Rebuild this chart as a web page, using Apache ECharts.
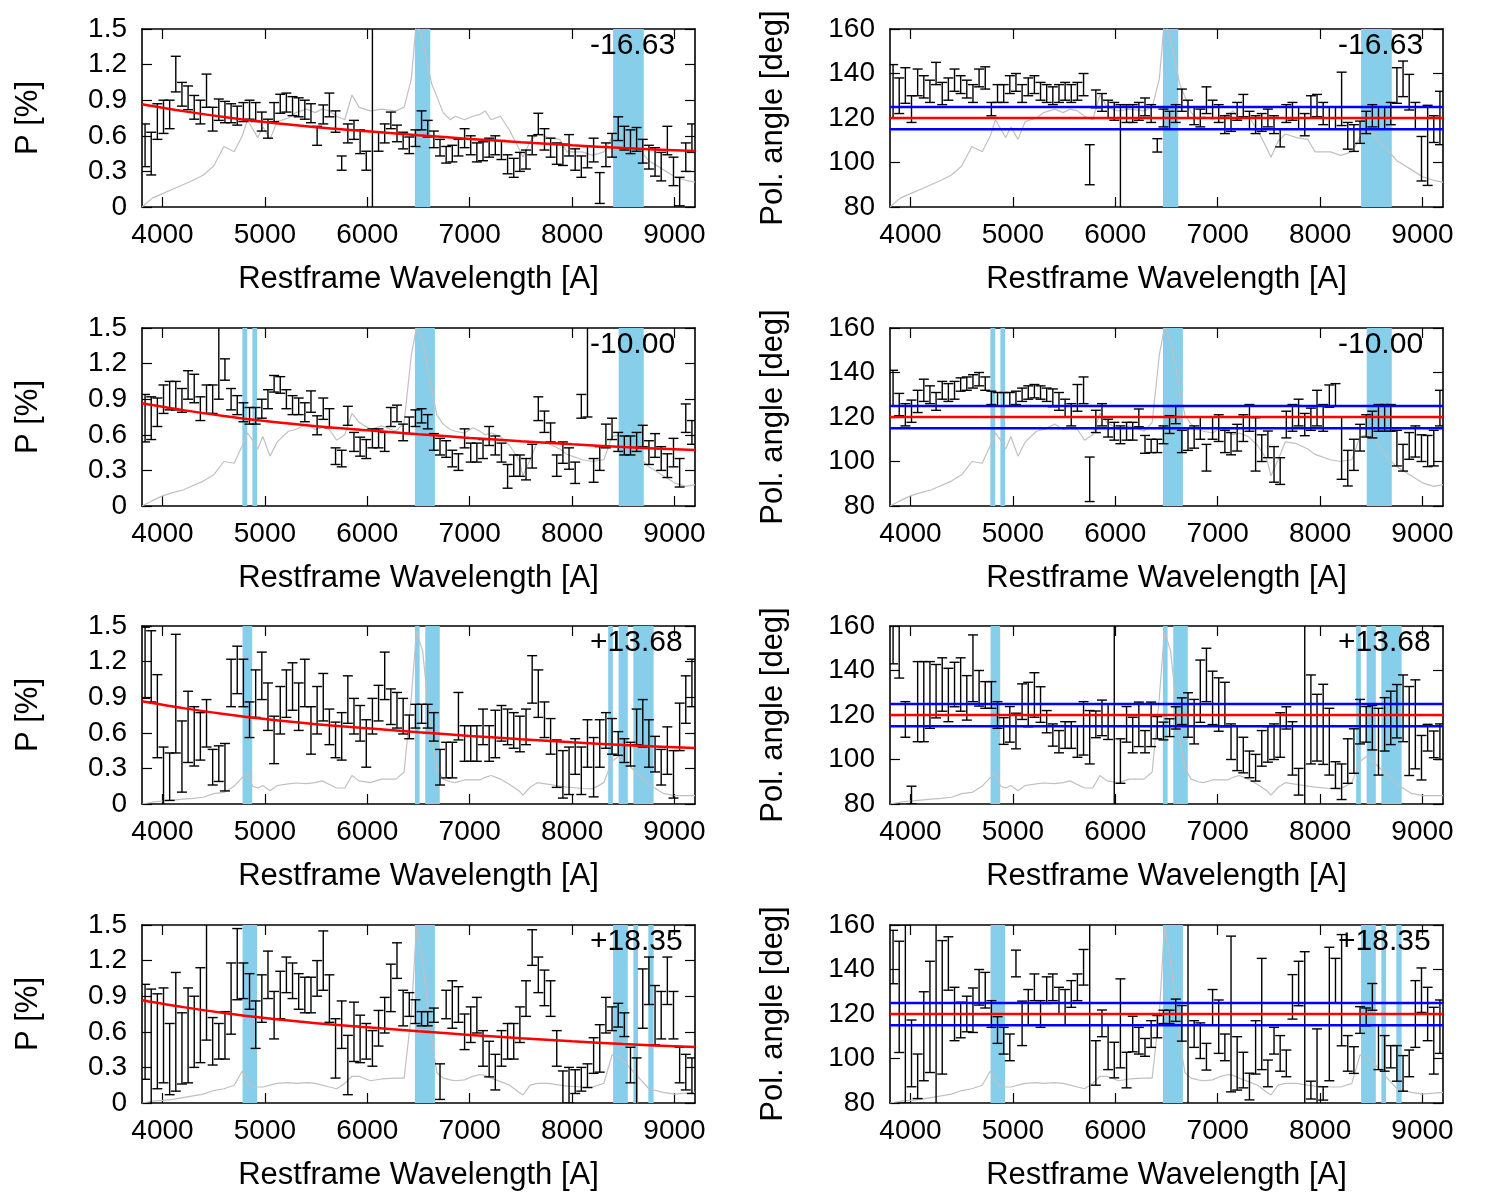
<!DOCTYPE html>
<html>
<head>
<meta charset="utf-8">
<title>Polarization spectra</title>
<script src="https://cdn.jsdelivr.net/npm/echarts@6.0.0/dist/echarts.min.js"></script>
<style>
  html, body { margin: 0; padding: 0; background: #fff; }
  #chart { width: 1495px; height: 1196px; }
</style>
</head>
<body>
<div id="chart"></div>
<script>
// wavelength bins of the polarimetry points
var waves = [3830,3890,3950,4010,4070,4130,4190,4250,4310,4370,
  4430,4490,4550,4610,4670,4730,4790,4850,4910,4970,
  5030,5090,5150,5210,5270,5330,5390,5450,5510,5570,
  5630,5690,5750,5810,5870,5930,5990,6050,6110,6170,
  6230,6290,6350,6410,6470,6530,6590,6650,6710,6770,
  6830,6890,6950,7010,7070,7130,7190,7250,7310,7370,
  7430,7490,7550,7610,7670,7730,7790,7850,7910,7970,
  8030,8090,8150,8210,8270,8330,8390,8450,8510,8570,
  8630,8690,8750,8810,8870,8930,8990,9050,9110,9170];

var xTicks = [4000, 5000, 6000, 7000, 8000, 9000];

// P [%] and errors, one pair per epoch
var pRow1 = [0.52,0.45,0.72,0.76,0.78,1.12,0.95,0.92,0.84,0.8,
  0.98,0.74,0.82,0.8,0.79,0.77,0.8,0.82,0.8,0.72,
  0.66,0.8,0.87,0.88,0.85,0.84,0.82,0.79,0.6,0.78,
  0.86,0.72,0.37,0.62,0.65,0.55,0.39,0.75,0.55,0.62,
  0.73,0.62,0.56,0.52,0.58,0.73,0.66,0.57,0.5,0.44,
  0.45,0.5,0.58,0.52,0.46,0.47,0.5,0.52,0.48,0.36,
  0.33,0.38,0.4,0.52,0.7,0.57,0.5,0.45,0.44,0.52,
  0.4,0.34,0.42,0.48,0.16,0.44,0.52,0.66,0.58,0.55,
  0.57,0.47,0.42,0.38,0.34,0.56,0.3,0.13,0.42,0.58];
var pErrRow1 = [0.18,0.18,0.15,0.14,0.12,0.15,0.1,0.1,0.1,0.1,
  0.14,0.1,0.09,0.09,0.08,0.08,0.08,0.08,0.08,0.08,
  0.08,0.08,0.08,0.08,0.08,0.08,0.08,0.08,0.08,0.08,
  0.1,0.09,0.06,0.08,0.08,0.1,0.08,1.5,0.08,0.08,
  0.07,0.07,0.07,0.07,0.07,0.08,0.07,0.07,0.07,0.07,
  0.07,0.07,0.08,0.08,0.08,0.08,0.08,0.08,0.08,0.08,
  0.08,0.08,0.08,0.08,0.09,0.09,0.08,0.09,0.09,0.09,
  0.09,0.09,0.09,0.1,0.13,0.1,0.1,0.1,0.1,0.1,
  0.1,0.1,0.1,0.12,0.12,0.12,0.12,0.12,0.12,0.12];

var pRow2 = [0.74,0.74,0.79,0.9,0.93,0.93,0.89,1.02,0.99,0.82,
  0.9,0.9,1.3,1.15,0.9,0.85,0.79,0.76,0.76,0.82,
  0.9,1.03,1.02,0.9,0.85,0.84,0.79,0.88,0.68,0.82,
  0.74,0.42,0.4,0.76,0.54,0.5,0.48,0.57,0.57,0.54,
  0.75,0.78,0.62,0.68,0.74,0.76,0.71,0.54,0.5,0.48,
  0.4,0.37,0.57,0.45,0.45,0.48,0.59,0.51,0.45,0.25,
  0.34,0.34,0.31,0.42,0.82,0.71,0.62,0.34,0.45,0.4,
  0.28,0.84,1.2,0.3,0.4,0.59,0.65,0.54,0.51,0.51,
  0.54,0.59,0.45,0.51,0.4,0.34,0.45,0.28,0.74,0.62];
var pErrRow2 = [0.2,0.18,0.12,0.12,0.12,0.12,0.1,0.12,0.12,0.1,
  0.12,0.12,0.4,0.09,0.09,0.08,0.08,0.07,0.07,0.08,
  0.08,0.07,0.07,0.08,0.08,0.07,0.08,0.09,0.08,0.09,
  0.08,0.07,0.07,0.08,0.08,0.08,0.08,0.08,0.08,0.08,
  0.08,0.07,0.07,0.07,0.07,0.06,0.06,0.07,0.07,0.07,
  0.07,0.07,0.08,0.08,0.08,0.08,0.08,0.08,0.08,0.1,
  0.09,0.09,0.09,0.1,0.1,0.09,0.08,0.09,0.09,0.09,
  0.09,0.1,0.45,0.1,0.1,0.1,0.09,0.08,0.08,0.08,
  0.08,0.09,0.1,0.1,0.1,0.1,0.12,0.12,0.12,0.1];

var pRow3 = [1.19,1.16,0.74,0.23,0.23,0.93,0.4,0.65,0.57,0.57,
  0.68,0.31,0.34,0.31,1.02,1.13,1.02,0.71,0.93,1.08,
  0.82,0.54,0.79,0.93,0.99,0.82,1.02,0.62,0.79,0.9,
  0.65,0.54,0.57,0.88,0.74,0.68,0.51,0.74,0.85,1.08,
  0.82,0.79,0.74,0.65,0.74,0.76,0.74,0.65,0.31,0.37,
  0.37,0.74,0.51,0.51,0.51,0.65,0.51,0.59,0.68,0.65,
  0.62,0.59,0.65,1.05,0.93,0.71,0.57,0.34,0.25,0.28,
  0.4,0.28,0.51,0.31,0.51,0.62,0.57,0.51,0.45,0.42,
  0.65,0.68,0.51,0.42,0.31,0.45,0.25,0.65,0.88,1.02];
var pErrRow3 = [0.3,0.3,0.35,0.25,0.2,0.5,0.3,0.3,0.25,0.2,
  0.2,0.15,0.15,0.2,0.2,0.2,0.2,0.15,0.2,0.2,
  0.2,0.2,0.2,0.2,0.2,0.2,0.2,0.2,0.2,0.2,
  0.15,0.15,0.2,0.2,0.15,0.15,0.2,0.15,0.15,0.2,
  0.15,0.15,0.15,0.1,0.1,0.08,0.1,0.12,0.15,0.15,
  0.15,0.2,0.15,0.15,0.15,0.15,0.15,0.2,0.15,0.15,
  0.15,0.15,0.15,0.2,0.2,0.15,0.15,0.2,0.2,0.2,
  0.15,0.2,0.2,0.25,0.2,0.15,0.15,0.1,0.1,0.1,
  0.15,0.2,0.2,0.15,0.15,0.2,0.2,0.2,0.2,0.2];

var pRow4 = [0.6,0.46,0.52,0.57,0.37,0.6,0.46,0.57,0.6,0.74,
  1.03,0.52,0.52,0.57,0.88,1.17,1.03,0.94,0.66,0.88,
  1.08,0.74,0.91,1.08,1.03,0.94,0.91,0.91,1.05,1.2,
  0.88,0.46,0.66,0.32,0.6,0.54,0.52,0.46,0.63,0.74,
  0.97,1.2,0.8,0.83,0.77,0.71,0.71,0.74,0.18,0.83,
  0.83,0.83,0.6,0.66,0.74,0.46,0.37,0.26,0.46,0.52,
  0.52,0.66,0.88,1.31,1.08,0.97,0.88,0.46,0.12,0.15,
  0.18,0.2,0.23,0.4,0.46,0.74,0.71,0.74,0.66,0.32,
  0.18,0.88,1.03,0.74,0.74,1.03,0.74,0.32,0.26,0.23];
var pErrRow4 = [0.4,0.5,0.4,0.4,0.3,0.5,0.3,0.4,0.3,0.4,
  0.5,0.2,0.15,0.2,0.3,0.3,0.15,0.15,0.2,0.2,
  0.2,0.2,0.2,0.15,0.15,0.15,0.15,0.15,0.15,0.25,
  0.2,0.25,0.2,0.25,0.25,0.2,0.15,0.15,0.15,0.15,
  0.2,0.15,0.15,0.1,0.1,0.06,0.06,0.06,0.15,0.12,
  0.2,0.15,0.15,0.15,0.15,0.15,0.15,0.15,0.15,0.15,
  0.15,0.15,0.15,0.15,0.15,0.15,0.15,0.15,0.15,0.15,
  0.1,0.1,0.1,0.15,0.2,0.15,0.1,0.1,0.1,0.15,
  0.2,0.25,0.2,0.25,0.2,0.2,0.2,0.15,0.15,0.15];

// polarization angle [deg] and errors
var angRow1 = [132,130,134.6,124,136,134,132,140,131,133,
  137,135,133,131,138,138,124,131,131,135,
  136,131,134,135,132,131,130,131,132,131,
  132,135,99,128.6,127,124,123,96,122,122,
  123,125,122,107.7,120,119,122,128,124,121,
  120,128,124,122,117,118,123,125.6,119,117,
  118,120,117,111,122,123,120,117,125,125.6,
  122,120,120,128.6,112,111,113.6,118,121,120,
  120,122,134.6,137.6,131.6,121,101.7,107.7,115,120];
var angErrRow1 = [12,8,8,6,6,5,5,5,5,5,
  5,4,4,4,4,5,3,4,4,4,
  4,4,4,4,4,4,4,4,4,4,
  4,5,9,4,4,4,4,30,4,4,
  4,4,4,3,4,4,4,5,4,4,
  4,6,4,4,4,4,4,5,4,4,
  4,4,4,4,4,4,5,5,5,5,
  5,5,5,12,6,6,5,5,5,5,
  5,5,8,8,8,6,10,18,6,12];

var angRow2 = [133,125.6,121,122.6,127,132,130,127,132,131,
  132,134.6,135,136,137,135,128.6,128,128,128,
  128.6,130,131,131.6,131,130,128.6,127,124,121,
  128.6,132,92,118,121,115,113.6,112,113.6,113.6,
  119.6,107.7,107,107,112,116.6,121,109,110,111,
  115,101.7,115,115,109,108,110.7,115,119.6,107.7,
  106,107.7,98.7,95.7,116.6,119.6,122,116.6,119,124,
  119.6,129.4,130,106,97,103,110.7,116,116.6,119.6,
  119.6,119.6,106,101.7,107,109,106,104.7,106,124];
var angErrRow2 = [8,5,5,5,5,5,4,4,4,4,
  4,3,3,3,3,3,3,3,3,3,
  3,3,3,3,3,3,4,4,4,5,
  6,6,10,5,5,4,4,4,4,4,
  4,4,3,3,4,4,4,5,5,5,
  5,6,5,6,5,5,6,6,6,12,
  6,6,8,6,6,6,6,5,5,8,
  6,5,5,14,8,7,6,5,6,6,
  6,6,8,6,6,7,6,7,8,8];

var angRow3 = [153,148.6,118,84,126,126,129,130.7,133.7,129,
  133.7,133.7,127.7,141,132,129,129,120,112.8,115.8,
  112.8,126,124.7,129,124.7,117,111,108,111,111,
  108,114,110,115.8,118.7,117,118,99.3,115.8,111,
  115.8,108,115.8,114.3,112.8,114.3,118.7,121.7,120,117,
  130.7,138,127.7,124.7,124.7,108,105,102,97.8,96.3,
  105,106.8,108,111,118.7,105,90,110,118,114.3,
  115.8,108,93,90,99.3,103.8,117,115.8,114.3,108,
  115.8,118.7,121.7,123,112.8,115.8,100.8,109.8,106.8,108];
var angErrRow3 = [10,12,8,4,18,18,15,12,12,12,
  10,12,10,15,8,6,6,6,6,8,
  8,8,10,10,8,5,5,5,6,6,
  7,12,12,6,8,8,60,10,8,8,
  10,5,10,5,4,4,5,6,10,10,
  14,12,12,12,10,8,10,8,6,6,
  8,8,8,10,5,12,6,60,20,15,
  18,15,6,8,10,10,10,8,10,15,
  12,12,12,15,20,20,10,6,6,8];

var angRow4 = [145.6,127.7,120,102.3,92,110,118.7,120,123,142.7,
  120,117.3,120,121.7,132,130.7,120,112.8,108,105,
  142.7,115.8,123,132,120,130.7,132,126,123,129,
  132,141,115,98,115.8,105,99.3,115.8,94.8,111,
  108,105,111,114.3,118.7,118.7,121.7,115.8,135,111,
  108,100.8,123,114.3,105,120,97.8,94.8,87.4,105,
  120,93.3,108,102.3,97.8,127.7,133.7,108,85.8,93.3,
  84.3,120,135,130.7,102.3,99.3,117.3,118.7,127.7,105,
  102.3,100.8,97.8,93.3,97.8,120,130.7,120,108,114.3];
var angErrRow4 = [12,25,40,15,10,20,25,60,30,12,
  12,8,8,10,8,8,6,6,6,6,
  6,10,8,6,6,6,6,6,8,6,
  6,8,60,10,6,10,8,20,8,8,
  6,4,6,5,3,3,5,8,60,6,
  8,6,8,12,6,35,12,8,6,12,
  25,6,6,8,6,10,10,40,4,20,
  3,30,10,25,8,6,6,4,6,10,
  8,5,8,8,6,15,10,12,15,12];

// scaled total-flux spectrum (fraction of panel height)
var fluxWave = [3800,3900,4000,4100,4200,4300,4400,4500,4600,4700,
  4780,4830,4880,4930,4980,5050,5120,5230,5300,5410,
  5490,5560,5630,5700,5780,5850,5920,6030,6140,6280,
  6360,6430,6480,6540,6630,6680,6740,6810,6860,6950,
  7030,7100,7150,7210,7300,7390,7480,7520,7590,7660,
  7770,7880,7950,8100,8200,8310,8390,8460,8530,8640,
  8750,8890,9000,9110,9200];
var fluxRow1 = [0.0,0.05,0.075,0.1,0.125,0.15,0.18,0.23,0.34,0.31,
  0.4,0.49,0.44,0.39,0.45,0.38,0.48,0.5,0.53,0.55,
  0.53,0.55,0.54,0.51,0.49,0.63,0.56,0.54,0.55,0.54,
  0.56,0.72,1.05,0.93,0.69,0.62,0.53,0.49,0.51,0.49,
  0.51,0.52,0.54,0.49,0.51,0.43,0.33,0.28,0.37,0.41,
  0.39,0.38,0.31,0.31,0.29,0.31,0.39,0.43,0.4,0.33,
  0.26,0.21,0.17,0.15,0.14];
var fluxRow2 = [0.0,0.03,0.057,0.075,0.09,0.115,0.14,0.175,0.25,0.24,
  0.34,0.41,0.37,0.32,0.39,0.28,0.36,0.42,0.43,0.46,
  0.43,0.44,0.43,0.37,0.4,0.52,0.47,0.43,0.45,0.42,
  0.47,0.85,1.0,0.93,0.65,0.51,0.46,0.43,0.42,0.41,
  0.44,0.42,0.4,0.41,0.39,0.34,0.26,0.17,0.26,0.36,
  0.35,0.32,0.29,0.26,0.25,0.26,0.39,0.4,0.38,0.28,
  0.22,0.17,0.13,0.11,0.12];
var fluxRow3 = [0.0,0.01,0.017,0.022,0.027,0.032,0.038,0.058,0.065,0.1,
  0.15,0.17,0.1,0.09,0.104,0.075,0.104,0.113,0.118,0.115,
  0.12,0.13,0.11,0.09,0.09,0.16,0.13,0.12,0.14,0.14,
  0.18,0.6,0.97,0.86,0.36,0.2,0.14,0.125,0.12,0.135,
  0.135,0.135,0.15,0.16,0.14,0.11,0.075,0.05,0.094,0.12,
  0.11,0.1,0.095,0.087,0.085,0.12,0.24,0.27,0.23,0.17,
  0.11,0.06,0.047,0.047,0.047];
var fluxRow4 = [0.0,0.01,0.015,0.02,0.03,0.04,0.05,0.07,0.08,0.1,
  0.18,0.12,0.09,0.09,0.09,0.1,0.11,0.115,0.11,0.115,
  0.11,0.1,0.09,0.08,0.11,0.15,0.15,0.125,0.135,0.14,
  0.14,0.5,0.99,0.8,0.35,0.17,0.14,0.13,0.125,0.13,
  0.15,0.16,0.155,0.14,0.12,0.1,0.06,0.045,0.1,0.11,
  0.11,0.1,0.095,0.09,0.09,0.11,0.27,0.26,0.22,0.15,
  0.08,0.06,0.05,0.055,0.06];

// masked wavelength ranges (cyan bands)
var bandsRow1 = [[6465, 6615], [8400, 8700]];
var bandsRow2 = [[4780, 4828], [4878, 4924], [6465, 6660], [8455, 8700]];
var bandsRow3 = [[4782, 4876], [6465, 6511], [6566, 6708], [8352, 8398], [8454, 8544], [8598, 8796]];
var bandsRow4 = [[4782, 4924], [6465, 6660], [8400, 8544], [8598, 8644], [8744, 8796]];

// fitted ISP curve (P) and mean angle with +-5 deg
var fitWave = [3800, 4200, 4600, 5000, 5500, 6000, 6500, 7000, 7500, 8000, 8500, 9200];
var fitP = [0.866, 0.808, 0.759, 0.716, 0.672, 0.638, 0.605, 0.574, 0.546, 0.52, 0.497, 0.471];
var angleFit = 120;
var angleLimits = [115, 125];

var epochLabels = ['-16.63', '-10.00', '+13.68', '+18.35'];

var rows = [
  { p: pRow1, pErr: pErrRow1, ang: angRow1, angErr: angErrRow1, flux: fluxRow1, bands: bandsRow1 },
  { p: pRow2, pErr: pErrRow2, ang: angRow2, angErr: angErrRow2, flux: fluxRow2, bands: bandsRow2 },
  { p: pRow3, pErr: pErrRow3, ang: angRow3, angErr: angErrRow3, flux: fluxRow3, bands: bandsRow3 },
  { p: pRow4, pErr: pErrRow4, ang: angRow4, angErr: angErrRow4, flux: fluxRow4, bands: bandsRow4 }
];

var xMin = 3800, xMax = 9200;
var rowTops = [29, 328, 626, 925];
var rowHeight = 178;
var colLefts = [142, 890];
var plotWidth = 553;
var FONT = 'Liberation Sans, Arial, Helvetica, sans-serif';

function zip(xs, ys) {
  return xs.map(function (x, i) { return [x, ys[i]]; });
}
function withErr(vals, errs) {
  return waves.map(function (w, i) { return [w, vals[i], errs[i]]; });
}

function renderBand(params, api) {
  var cs = params.coordSys;
  var x0 = api.coord([api.value(0), 0])[0];
  var x1 = api.coord([api.value(1), 0])[0];
  return {
    type: 'rect',
    shape: { x: x0, y: cs.y, width: x1 - x0, height: cs.height },
    style: { fill: '#87ceeb' }
  };
}

function renderErrorBar(params, api) {
  var x = api.value(0), v = api.value(1), e = api.value(2);
  var lo = api.coord([x, v - e]);
  var hi = api.coord([x, v + e]);
  var half = 5;
  var st = { stroke: '#000', lineWidth: 1.4 };
  return {
    type: 'group',
    children: [
      { type: 'line', shape: { x1: lo[0], y1: lo[1], x2: hi[0], y2: hi[1] }, style: st },
      { type: 'line', shape: { x1: lo[0] - half, y1: lo[1], x2: lo[0] + half, y2: lo[1] }, style: st },
      { type: 'line', shape: { x1: hi[0] - half, y1: hi[1], x2: hi[0] + half, y2: hi[1] }, style: st }
    ]
  };
}

var frameLine = { show: true, onZero: false, lineStyle: { color: '#000', width: 1.6 } };
var tickStyle = { color: '#000', width: 1.2 };

var grids = [], xAxes = [], yAxes = [], series = [], texts = [];

rows.forEach(function (row, r) {
  [0, 1].forEach(function (c) {
    var g = grids.length;
    var isP = c === 0;
    grids.push({ left: colLefts[c], top: rowTops[r], width: plotWidth, height: rowHeight });

    xAxes.push({
      type: 'value', gridIndex: g, position: 'bottom', min: xMin, max: xMax,
      axisLine: frameLine,
      axisTick: { inside: true, length: 10, customValues: xTicks, lineStyle: tickStyle },
      axisLabel: {
        customValues: xTicks, margin: 14, color: '#000', fontSize: 28, fontFamily: FONT,
        formatter: function (v) { return String(v); }
      },
      splitLine: { show: false },
      name: 'Restframe Wavelength [A]', nameLocation: 'middle', nameGap: 57,
      nameTextStyle: { color: '#000', fontSize: 31, fontFamily: FONT }
    });
    xAxes.push({
      type: 'value', gridIndex: g, position: 'top', min: xMin, max: xMax,
      axisLine: frameLine,
      axisTick: { inside: true, length: 10, customValues: xTicks, lineStyle: tickStyle },
      axisLabel: { show: false },
      splitLine: { show: false }
    });

    var yRange = isP ? { min: 0, max: 1.5, interval: 0.3 } : { min: 80, max: 160, interval: 20 };
    yAxes.push(Object.assign({
      type: 'value', gridIndex: g, position: 'left',
      axisLine: frameLine,
      axisTick: { inside: true, length: 10, lineStyle: tickStyle },
      axisLabel: {
        margin: 15, color: '#000', fontSize: 28, fontFamily: FONT,
        formatter: function (v) { return isP ? (v === 0 ? '0' : v.toFixed(1)) : String(Math.round(v)); }
      },
      splitLine: { show: false },
      name: isP ? 'P [%]' : 'Pol. angle [deg]', nameLocation: 'middle', nameRotate: 90,
      nameGap: isP ? 98 : 101,
      nameTextStyle: { color: '#000', fontSize: 31, fontFamily: FONT }
    }, yRange));
    yAxes.push(Object.assign({
      type: 'value', gridIndex: g, position: 'right',
      axisLine: frameLine,
      axisTick: { inside: true, length: 10, lineStyle: tickStyle },
      axisLabel: { show: false },
      splitLine: { show: false }
    }, yRange));
    yAxes.push({ type: 'value', gridIndex: g, position: 'right', min: 0, max: 1, show: false });

    var xb = 2 * g, yl = 3 * g;

    series.push({
      type: 'custom', xAxisIndex: xb, yAxisIndex: yl, z: 1, silent: true,
      renderItem: renderBand, encode: { x: [0, 1] }, data: row.bands
    });
    series.push({
      type: 'line', xAxisIndex: xb, yAxisIndex: yl + 2, z: 2, silent: true,
      showSymbol: false, symbol: 'none', data: zip(fluxWave, row.flux),
      lineStyle: { color: '#c0c0c0', width: 1.2 }
    });
    series.push({
      type: 'custom', xAxisIndex: xb, yAxisIndex: yl, z: 3, silent: true, clip: true,
      renderItem: renderErrorBar, encode: { x: 0, y: 1 },
      data: isP ? withErr(row.p, row.pErr) : withErr(row.ang, row.angErr)
    });

    if (isP) {
      series.push({
        type: 'line', xAxisIndex: xb, yAxisIndex: yl, z: 4, silent: true,
        smooth: 0.3, symbol: 'none', data: zip(fitWave, fitP),
        lineStyle: { color: '#ff0000', width: 2.5 }
      });
    } else {
      angleLimits.forEach(function (a) {
        series.push({
          type: 'line', xAxisIndex: xb, yAxisIndex: yl, z: 4, silent: true, symbol: 'none',
          data: [[xMin, a], [xMax, a]], lineStyle: { color: '#0000ff', width: 2.5 }
        });
      });
      series.push({
        type: 'line', xAxisIndex: xb, yAxisIndex: yl, z: 4, silent: true, symbol: 'none',
        data: [[xMin, angleFit], [xMax, angleFit]], lineStyle: { color: '#ff0000', width: 2.5 }
      });
    }

    texts.push({
      type: 'text', x: colLefts[c] + 448, y: rowTops[r] + 17, z: 100,
      style: {
        text: epochLabels[r], fill: '#000', align: 'left', verticalAlign: 'middle',
        font: '30px ' + FONT
      }
    });
  });
});

var chart = echarts.init(document.getElementById('chart'));
chart.setOption({
  animation: false,
  backgroundColor: '#fff',
  grid: grids,
  xAxis: xAxes,
  yAxis: yAxes,
  series: series,
  graphic: texts
});
</script>
</body>
</html>
